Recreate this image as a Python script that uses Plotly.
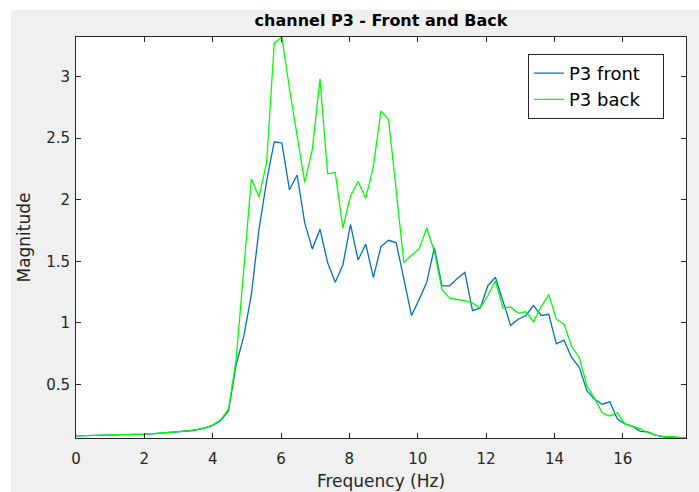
import plotly.graph_objects as go

# Frequency axis (Hz)
freq = [0.0, 0.2231, 0.4462, 0.6694, 0.8925, 1.1156, 1.3387, 1.5619, 1.785, 2.0081,
        2.2312, 2.4544, 2.6775, 2.9006, 3.1237, 3.3469, 3.57, 3.7931, 4.0162, 4.2394,
        4.4625, 4.6856, 4.9087, 5.1319, 5.355, 5.5781, 5.8012, 6.0244, 6.2475, 6.4706,
        6.6937, 6.9169, 7.14, 7.3631, 7.5862, 7.8094, 8.0325, 8.2556, 8.4787, 8.7019,
        8.925, 9.1481, 9.3712, 9.5944, 9.8175, 10.0406, 10.2637, 10.4869, 10.71, 10.9331,
        11.1562, 11.3794, 11.6025, 11.8256, 12.0487, 12.2719, 12.495, 12.7181, 12.9412, 13.1644,
        13.3875, 13.6106, 13.8337, 14.0569, 14.28, 14.5031, 14.7262, 14.9494, 15.1725, 15.3956,
        15.6187, 15.8419, 16.065, 16.2881, 16.5112, 16.7344, 16.9575, 17.1806, 17.4037, 17.6269,
        17.85]

p3_front = [0.083, 0.084, 0.085, 0.086, 0.087, 0.088, 0.090, 0.092, 0.095, 0.097,
            0.100, 0.104, 0.108, 0.113, 0.118, 0.125, 0.135, 0.148, 0.170, 0.210,
            0.285, 0.66, 0.89, 1.23, 1.76, 2.15, 2.47, 2.46, 2.08, 2.20,
            1.81, 1.60, 1.76, 1.49, 1.33, 1.47, 1.80, 1.51, 1.64, 1.37,
            1.62, 1.67, 1.65, 1.35, 1.06, 1.19, 1.33, 1.61, 1.30, 1.30,
            1.36, 1.41, 1.10, 1.12, 1.30, 1.37, 1.17, 0.98, 1.03, 1.06,
            1.14, 1.06, 1.07, 0.83, 0.86, 0.72, 0.64, 0.45, 0.38, 0.34,
            0.36, 0.22, 0.18, 0.16, 0.12, 0.115, 0.09, 0.075, 0.072, 0.070,
            0.066]

p3_back = [0.084, 0.085, 0.086, 0.087, 0.088, 0.089, 0.091, 0.093, 0.096, 0.098,
           0.101, 0.105, 0.109, 0.114, 0.119, 0.126, 0.136, 0.150, 0.175, 0.215,
           0.30, 0.70, 1.43, 2.17, 2.02, 2.30, 3.27, 3.32, 2.90, 2.52,
           2.14, 2.41, 2.98, 2.21, 2.22, 1.77, 2.03, 2.15, 2.01, 2.27,
           2.72, 2.65, 2.05, 1.49, 1.55, 1.60, 1.77, 1.58, 1.27, 1.20,
           1.19, 1.18, 1.16, 1.12, 1.22, 1.34, 1.12, 1.13, 1.08, 1.09,
           1.01, 1.13, 1.23, 1.03, 0.99, 0.81, 0.72, 0.49, 0.39, 0.27,
           0.245, 0.27, 0.18, 0.16, 0.14, 0.11, 0.09, 0.08, 0.075, 0.070,
           0.066]

x_ticks = [0, 2, 4, 6, 8, 10, 12, 14, 16]
y_ticks = [0.5, 1, 1.5, 2, 2.5, 3]
y_tick_text = ["0.5", "1", "1.5", "2", "2.5", "3"]
series_names = ["P3 front", "P3 back"]

FONT = "DejaVu Sans, Liberation Sans, Arial, sans-serif"
AX = "#262626"
PAD = "\u00a0\u00a0\u00a0"

fig = go.Figure()
fig.add_trace(go.Scatter(x=freq, y=p3_front, mode="lines", name=series_names[0] + PAD,
                         line=dict(color="#0072BD", width=1.3)))
fig.add_trace(go.Scatter(x=freq, y=p3_back, mode="lines", name=series_names[1] + PAD,
                         line=dict(color="#00FF00", width=1.3)))

ymin = min(min(p3_front), min(p3_back))
ymax = max(max(p3_front), max(p3_back))

axis_common = dict(showline=True, linecolor=AX, linewidth=1, mirror="ticks",
                   ticks="inside", ticklen=5, tickcolor=AX, tickwidth=1,
                   showgrid=False, zeroline=False, automargin=False,
                   tickfont=dict(family=FONT, size=15, color=AX))

fig.update_layout(
    width=699, height=492,
    margin=dict(l=76, r=13, t=37, b=54),
    paper_bgcolor="#f0f0f0", plot_bgcolor="white",
    title=dict(text="<b>channel P3 - Front and Back</b>", x=0.545, xanchor="center",
               y=1 - 20 / 492, yanchor="middle", yref="container",
               font=dict(family=FONT, size=16, color="black")),
    xaxis=dict(range=[0, freq[-1]], tickvals=x_ticks, ticklabelstandoff=7,
               title=dict(text="Frequency (Hz)", standoff=8,
                          font=dict(family=FONT, size=17, color=AX)),
               **axis_common),
    yaxis=dict(range=[ymin, ymax], tickvals=y_ticks, ticktext=y_tick_text,
               ticklabelstandoff=2,
               title=dict(text="Magnitude", standoff=11,
                          font=dict(family=FONT, size=17, color=AX)),
               **axis_common),
    legend=dict(x=0.741, y=0.958, xanchor="left", yanchor="top",
                bgcolor="white", bordercolor=AX, borderwidth=1,
                font=dict(family=FONT, size=18, color="black"),
                tracegroupgap=0, itemwidth=30),
    shapes=[
        dict(type="rect", xref="paper", yref="paper", layer="below",
             x0=-76 / 610, x1=-65 / 610, y0=-54 / 401, y1=(401 + 37) / 401,
             fillcolor="white", line=dict(width=0)),
        dict(type="rect", xref="paper", yref="paper", layer="below",
             x0=-76 / 610, x1=(610 + 13) / 610, y0=(401 + 27) / 401, y1=(401 + 37) / 401,
             fillcolor="white", line=dict(width=0)),
    ],
)

fig.write_html("out.html", config={"displayModeBar": False})
